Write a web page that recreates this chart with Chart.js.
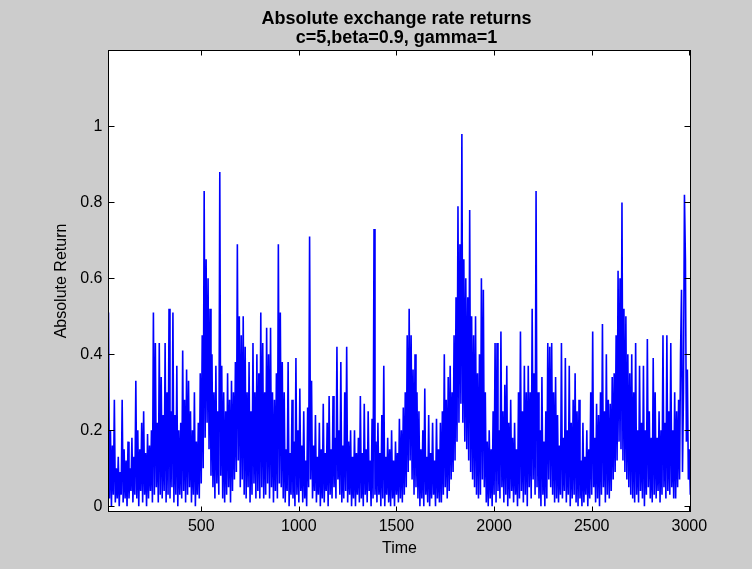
<!DOCTYPE html>
<html>
<head>
<meta charset="utf-8">
<script src="https://cdn.jsdelivr.net/npm/chart.js@4.4.1/dist/chart.umd.min.js"></script>
<style>
html,body{margin:0;padding:0;background:#cccccc;}
#wrap{position:relative;width:752px;height:569px;}
canvas{display:block;}
</style>
</head>
<body>
<div id="wrap"><canvas id="c" width="752" height="569"></canvas></div>
<script>
// ---- chart text ----
const titleLines = ['Absolute exchange rate returns', 'c=5,beta=0.9, gamma=1'];
const xLabel = 'Time';
const yLabel = 'Absolute Return';
const xTicks = [500, 1000, 1500, 2000, 2500, 3000];
const yTicks = [0, 0.2, 0.4, 0.6, 0.8, 1];

// ---- series: absolute return, one reading every 5 time units starting at t=25 ----
const timeStart = 25;
const timeStep = 5;
const returns_25_520 = [
  0.51,0.02,0.2,0.0,0.16,0.03,0.28,0.01,0.1,0.02,0.13,0.0,0.09,0.03,0.28,0.01,0.15,0.02,0.12,0.0,
  0.17,0.02,0.1,0.04,0.18,0.01,0.13,0.03,0.33,0.02,0.2,0.0,0.15,0.04,0.22,0.01,0.25,0.03,0.14,0.0,
  0.19,0.02,0.16,0.04,0.2,0.01,0.51,0.03,0.43,0.05,0.22,0.01,0.43,0.03,0.34,0.02,0.24,0.04,0.43,0.01,
  0.3,0.03,0.52,0.02,0.25,0.05,0.51,0.01,0.24,0.03,0.37,0.0,0.2,0.03,0.22,0.02,0.41,0.04,0.28,0.01,
  0.36,0.03,0.33,0.05,0.25,0.01,0.2,0.03,0.3,0.0,0.17,0.03,0.22,0.02,0.35,0.06,0.45,0.1,0.83,0.18
];
const returns_525_1020 = [
  0.65,0.22,0.6,0.15,0.52,0.08,0.4,0.05,0.3,0.02,0.37,0.06,0.25,0.03,0.88,0.08,0.37,0.02,0.3,0.01,
  0.25,0.03,0.35,0.05,0.28,0.01,0.33,0.04,0.3,0.07,0.38,0.09,0.69,0.12,0.5,0.05,0.45,0.07,0.5,0.03,
  0.42,0.02,0.3,0.05,0.38,0.01,0.25,0.03,0.43,0.06,0.3,0.02,0.4,0.04,0.35,0.02,0.51,0.05,0.43,0.02,
  0.3,0.03,0.47,0.06,0.4,0.02,0.47,0.05,0.3,0.01,0.28,0.04,0.35,0.02,0.69,0.06,0.51,0.05,0.38,0.02,
  0.3,0.01,0.15,0.04,0.38,0.0,0.14,0.03,0.28,0.02,0.17,0.0,0.39,0.03,0.2,0.01,0.31,0.04,0.16,0.01
];
const returns_1025_1520 = [
  0.25,0.02,0.12,0.0,0.26,0.05,0.71,0.07,0.33,0.02,0.16,0.04,0.24,0.01,0.13,0.03,0.22,0.0,0.15,0.02,
  0.27,0.01,0.14,0.04,0.22,0.0,0.29,0.03,0.15,0.02,0.29,0.05,0.18,0.02,0.42,0.07,0.2,0.03,0.38,0.01,
  0.16,0.02,0.3,0.04,0.42,0.01,0.17,0.03,0.2,0.0,0.13,0.02,0.2,0.0,0.14,0.03,0.18,0.01,0.29,0.02,
  0.14,0.0,0.27,0.03,0.15,0.01,0.25,0.04,0.12,0.0,0.23,0.02,0.73,0.03,0.17,0.01,0.22,0.03,0.14,0.0,
  0.24,0.02,0.37,0.0,0.13,0.03,0.18,0.01,0.15,0.0,0.2,0.02,0.12,0.0,0.17,0.03,0.14,0.01,0.23,0.02
];
const returns_1525_2020 = [
  0.2,0.01,0.26,0.03,0.3,0.05,0.45,0.09,0.52,0.12,0.45,0.07,0.36,0.03,0.4,0.05,0.3,0.02,0.25,0.0,
  0.15,0.02,0.2,0.0,0.31,0.03,0.13,0.01,0.24,0.0,0.14,0.02,0.22,0.03,0.12,0.0,0.23,0.02,0.15,0.01,
  0.22,0.01,0.25,0.03,0.4,0.05,0.28,0.02,0.34,0.04,0.37,0.07,0.3,0.09,0.45,0.12,0.55,0.17,0.79,0.22,
  0.69,0.27,0.98,0.22,0.65,0.17,0.6,0.15,0.55,0.12,0.78,0.09,0.5,0.07,0.45,0.05,0.5,0.03,0.35,0.02,
  0.4,0.03,0.6,0.07,0.57,0.05,0.3,0.01,0.17,0.0,0.2,0.02,0.15,0.0,0.25,0.03,0.43,0.01,0.43,0.04
];
const returns_2025_2520 = [
  0.2,0.02,0.46,0.05,0.25,0.01,0.32,0.03,0.37,0.0,0.22,0.02,0.28,0.04,0.18,0.01,0.22,0.03,0.15,0.0,
  0.3,0.02,0.46,0.04,0.25,0.01,0.37,0.03,0.3,0.0,0.37,0.05,0.3,0.02,0.52,0.07,0.35,0.03,0.83,0.05,
  0.3,0.02,0.2,0.0,0.34,0.03,0.17,0.0,0.25,0.02,0.43,0.07,0.42,0.05,0.43,0.03,0.3,0.01,0.34,0.02,
  0.24,0.01,0.16,0.03,0.43,0.02,0.18,0.04,0.39,0.01,0.2,0.03,0.37,0.0,0.22,0.02,0.28,0.03,0.35,0.01,
  0.25,0.0,0.28,0.02,0.12,0.0,0.22,0.01,0.13,0.03,0.2,0.0,0.15,0.02,0.3,0.03,0.46,0.05,0.18,0.01
];
const returns_2525_3005 = [
  0.27,0.02,0.24,0.0,0.3,0.03,0.48,0.05,0.25,0.01,0.4,0.03,0.28,0.02,0.27,0.04,0.34,0.07,0.35,0.09,
  0.45,0.12,0.62,0.17,0.6,0.15,0.8,0.12,0.52,0.09,0.5,0.07,0.4,0.05,0.35,0.03,0.4,0.02,0.3,0.01,
  0.43,0.03,0.2,0.01,0.37,0.04,0.22,0.02,0.37,0.0,0.2,0.03,0.44,0.05,0.25,0.02,0.18,0.01,0.39,0.03,
  0.3,0.02,0.18,0.04,0.25,0.01,0.2,0.03,0.45,0.05,0.22,0.02,0.45,0.04,0.25,0.03,0.43,0.05,0.2,0.02,
  0.3,0.02,0.25,0.05,0.28,0.07,0.4,0.57,0.09,0.3,0.82,0.65,0.17,0.36,0.07,0.15,0.03
];

const allReturns = [].concat(returns_25_520, returns_525_1020, returns_1025_1520,
                             returns_1525_2020, returns_2025_2520, returns_2525_3005);
const points = allReturns.map((v, i) => ({ x: timeStart + i * timeStep, y: v }));

const FONT = '"Liberation Sans", Arial, Helvetica, sans-serif';

const matlabAxes = {
  id: 'matlabAxes',
  beforeDatasetsDraw(chart) {
    const { ctx, chartArea: a } = chart;
    ctx.save();
    ctx.fillStyle = '#ffffff';
    ctx.fillRect(a.left, a.top, a.right - a.left, a.bottom - a.top);
    ctx.restore();
  },
  afterDatasetsDraw(chart) {
    const { ctx, chartArea: a, scales } = chart;
    const xs = scales.x, ys = scales.y;
    ctx.save();
    ctx.strokeStyle = '#000';
    ctx.lineWidth = 1;
    ctx.beginPath();
    xTicks.forEach(v => {
      const px = Math.round(xs.getPixelForValue(v)) + 0.5;
      ctx.moveTo(px, a.bottom); ctx.lineTo(px, a.bottom - 5);
      ctx.moveTo(px, a.top); ctx.lineTo(px, a.top + 5);
    });
    yTicks.forEach(v => {
      const py = Math.round(ys.getPixelForValue(v)) + 0.5;
      ctx.moveTo(a.left, py); ctx.lineTo(a.left + 6, py);
      ctx.moveTo(a.right, py); ctx.lineTo(a.right - 6, py);
    });
    ctx.stroke();
    ctx.strokeRect(a.left, a.top, a.right - a.left, a.bottom - a.top);
    ctx.restore();
  },
  afterDraw(chart) {
    const { ctx, chartArea: a } = chart;
    const cx = (a.left + a.right) / 2 - 3;
    ctx.save();
    ctx.fillStyle = '#000';
    ctx.font = 'bold 18px ' + FONT;
    ctx.textAlign = 'center';
    ctx.textBaseline = 'alphabetic';
    ctx.fillText(titleLines[0], cx, 24);
    ctx.fillText(titleLines[1], cx, 43);
    ctx.restore();
  }
};

new Chart(document.getElementById('c'), {
  type: 'line',
  data: {
    datasets: [{
      data: points,
      borderColor: '#0000ff',
      borderWidth: 1.6,
      borderJoinStyle: 'bevel',
      pointRadius: 0,
      pointHoverRadius: 0,
      tension: 0,
      fill: false
    }]
  },
  options: {
    responsive: false,
    animation: false,
    events: [],
    layout: { padding: { left: 0, top: 50.5, right: 61.5, bottom: 0 } },
    plugins: { legend: { display: false }, title: { display: false }, tooltip: { enabled: false } },
    scales: {
      x: {
        type: 'linear',
        min: 25,
        max: 3006,
        afterBuildTicks: s => { s.ticks = xTicks.map(v => ({ value: v })); },
        afterFit: s => { s.height = 57.5; },
        grid: { display: false, drawTicks: false },
        border: { display: false },
        ticks: {
          autoSkip: false, maxRotation: 0, padding: 5, color: '#000',
          font: { family: FONT, size: 16 },
          callback: v => String(v)
        },
        title: {
          display: true, text: xLabel, color: '#000',
          font: { family: FONT, size: 16 },
          padding: { top: 0, bottom: 10.4 }
        }
      },
      y: {
        type: 'linear',
        min: -0.014,
        max: 1.2,
        afterBuildTicks: s => { s.ticks = yTicks.map(v => ({ value: v })); },
        afterFit: s => { s.width = 108.5; },
        grid: { display: false, drawTicks: false },
        border: { display: false },
        ticks: {
          padding: 6, color: '#000',
          font: { family: FONT, size: 16 },
          callback: v => String(v)
        },
        title: {
          display: true, text: yLabel, color: '#000',
          font: { family: FONT, size: 16 },
          padding: { top: 52.4, bottom: 0 }
        }
      }
    }
  },
  plugins: [matlabAxes]
});
</script>
</body>
</html>
